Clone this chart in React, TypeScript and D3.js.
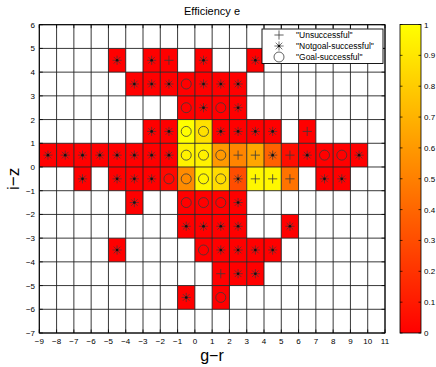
import * as d3 from 'd3'

// cell lower-left corners (g-r, i-z), efficiency value and marker type
const cellX = [
  -5, -3, -2, 0, 3,
  -4, -3, -2, -1, 0, 1, 2,
  -1, 0, 1, 2,
  -3, -2, -1, 0, 1, 2, 3, 4, 6,
  -9, -8, -7, -6, -5, -4, -3, -2, -1, 0, 1, 2, 3, 4, 5, 6, 7, 8, 9,
  -7, -5, -4, -3, -2, -1, 0, 1, 2, 3, 4, 5, 7, 8,
  -4, -1, 0, 1, 2,
  -1, 0, 1, 2, 5,
  -5, 0, 1, 2, 3, 4,
  1, 2, 3,
  -1, 1,
]
const cellY = [
  4, 4, 4, 4, 4,
  3, 3, 3, 3, 3, 3, 3,
  2, 2, 2, 2,
  1, 1, 1, 1, 1, 1, 1, 1, 1,
  0, 0, 0, 0, 0, 0, 0, 0, 0, 0, 0, 0, 0, 0, 0, 0, 0, 0, 0,
  -1, -1, -1, -1, -1, -1, -1, -1, -1, -1, -1, -1, -1, -1,
  -2, -2, -2, -2, -2,
  -3, -3, -3, -3, -3,
  -4, -4, -4, -4, -4, -4,
  -5, -5, -5,
  -6, -6,
]
const cellValue = [
  0, 0, 0, 0, 0,
  0, 0, 0, 0, 0, 0, 0,
  0, 0, 0, 0,
  0, 0, 1, 0.88, 0, 0, 0, 0, 0,
  0, 0, 0, 0, 0, 0, 0, 0, 0.95, 0.95, 0.6, 0.52, 0.65, 0.38, 0.05, 0, 0, 0, 0,
  0, 0, 0, 0, 0.03, 0.55, 0.97, 0.86, 0.3, 0.97, 0.97, 0.45, 0, 0,
  0, 0, 0, 0, 0,
  0, 0, 0, 0, 0,
  0, 0, 0, 0, 0, 0,
  0, 0, 0,
  0, 0,
]
// p = unsuccessful (+), s = notgoal-successful (*), o = goal-successful
const cellMarker = [
  's', 's', 'p', 's', 's',
  's', 's', 's', 'o', 's', 's', 's',
  'o', 's', 'o', 's',
  's', 's', 'o', 'o', 's', 's', 's', 's', 'p',
  's', 's', 's', 's', 's', 's', 's', 's', 'o', 'o', 'o', 'p', 'p', 's', 'p', 's', 'o', 'o', 's',
  's', 's', 's', 's', 'o', 'o', 'o', 'o', 's', 'p', 'p', 'p', 's', 's',
  's', 'o', 'o', 'o', 's',
  's', 's', 's', 's', 's',
  's', 'o', 's', 's', 's', 's',
  'p', 's', 's',
  's', 'o',
]

const xTicks = d3.range(-9, 12)
const yTicks = d3.range(-7, 7)
const cbTicks = d3.range(0, 11).map((d) => d / 10)
const legendItems = [
  { m: 'p', label: '"Unsuccessful"' },
  { m: 's', label: '"Notgoal-successful"' },
  { m: 'o', label: '"Goal-successful"' },
]

const FONT = '"Liberation Sans", Arial, sans-serif'
const MK = '#3a3a3a'

function Marker({ type, cx, cy }: { type: string; cx: number; cy: number }) {
  const a = 4.6
  if (type === 'o') {
    return <circle cx={cx} cy={cy} r={5} fill="none" stroke={MK} strokeWidth={0.8} />
  }
  if (type === 'p') {
    return (
      <path
        d={`M${cx - a},${cy}H${cx + a}M${cx},${cy - a}V${cy + a}`}
        stroke={MK}
        strokeWidth={0.8}
      />
    )
  }
  const b = a * 0.72
  return (
    <g stroke={MK} strokeWidth={0.7}>
      <path
        d={`M${cx - a},${cy}H${cx + a}M${cx},${cy - a}V${cy + a}M${cx - b},${cy - b}L${cx + b},${cy + b}M${cx - b},${cy + b}L${cx + b},${cy - b}`}
      />
      <circle cx={cx} cy={cy} r={1.3} fill="#111" stroke="none" />
    </g>
  )
}

export default function App() {
  const width = 436
  const height = 367
  const x = d3.scaleLinear().domain([-9, 11]).range([39.3, 385])
  const y = d3.scaleLinear().domain([-7, 6]).range([333, 24.7])
  const color = d3.scaleLinear<string>().domain([0, 1]).range(['#ff0000', '#ffff00'])
  const cbY = d3.scaleLinear().domain([0, 1]).range([333, 24.5])
  const cbX0 = 400
  const cbX1 = 421

  const cw = x(1) - x(0)
  const ch = y(0) - y(1)

  const gradStops = d3.range(0, 1.01, 0.1)

  return (
    <svg
      width={width}
      height={height}
      style={{ position: 'absolute', left: 0, top: 0, background: '#fff' }}
      fontFamily={FONT}
    >
      <defs>
        <linearGradient id="cb" x1="0" y1="1" x2="0" y2="0">
          {gradStops.map((s) => (
            <stop key={s} offset={s} stopColor={color(s)} />
          ))}
        </linearGradient>
      </defs>

      {/* title */}
      <text x={212} y={15} fontSize={11} textAnchor="middle" fill="#000">
        Efficiency e
      </text>

      {/* cells */}
      {cellX.map((cx, i) => (
        <rect
          key={'c' + i}
          x={x(cx)}
          y={y(cellY[i] + 1)}
          width={cw}
          height={ch}
          fill={color(cellValue[i])}
        />
      ))}

      {/* grid */}
      {xTicks.map((t) => (
        <line key={'gx' + t} x1={x(t)} x2={x(t)} y1={y(-7)} y2={y(6)} stroke="#222" strokeWidth={0.9} />
      ))}
      {yTicks.map((t) => (
        <line key={'gy' + t} x1={x(-9)} x2={x(11)} y1={y(t)} y2={y(t)} stroke="#222" strokeWidth={0.9} />
      ))}

      {/* markers */}
      {cellX.map((cx, i) => (
        <Marker key={'m' + i} type={cellMarker[i]} cx={x(cx + 0.5)} cy={y(cellY[i] + 0.5)} />
      ))}

      {/* axes box + ticks */}
      <rect x={x(-9)} y={y(6)} width={x(11) - x(-9)} height={y(-7) - y(6)} fill="none" stroke="#000" strokeWidth={1} />
      {xTicks.map((t) => (
        <g key={'tx' + t}>
          <line x1={x(t)} x2={x(t)} y1={y(-7)} y2={y(-7) - 3.5} stroke="#000" strokeWidth={0.8} />
          <line x1={x(t)} x2={x(t)} y1={y(6)} y2={y(6) + 3.5} stroke="#000" strokeWidth={0.8} />
          <text x={x(t)} y={344} fontSize={8} textAnchor="middle" fill="#000">
            {t < 0 ? '\u2212' + Math.abs(t) : t}
          </text>
        </g>
      ))}
      {yTicks.map((t) => (
        <g key={'ty' + t}>
          <line x1={x(-9)} x2={x(-9) + 3.5} y1={y(t)} y2={y(t)} stroke="#000" strokeWidth={0.8} />
          <line x1={x(11)} x2={x(11) - 3.5} y1={y(t)} y2={y(t)} stroke="#000" strokeWidth={0.8} />
          <text x={35} y={y(t) + 3} fontSize={8} textAnchor="end" fill="#000">
            {t < 0 ? '\u2212' + Math.abs(t) : t}
          </text>
        </g>
      ))}

      {/* axis labels */}
      <text x={212} y={361} fontSize={16} textAnchor="middle" fill="#000">
        g{'\u2212'}r
      </text>
      <text
        x={0}
        y={0}
        fontSize={17}
        textAnchor="middle"
        fill="#000"
        transform={`translate(19,${(y(6) + y(-7)) / 2}) rotate(-90)`}
      >
        i{'\u2212'}z
      </text>

      {/* legend */}
      <rect x={262} y={29} width={121} height={34.5} fill="#fff" stroke="#000" strokeWidth={0.9} />
      {legendItems.map((it, i) => (
        <g key={'l' + i}>
          <Marker type={it.m} cx={279} cy={35 + i * 11} />
          <text x={296} y={38.3 + i * 11} fontSize={8.5} fill="#000">
            {it.label}
          </text>
        </g>
      ))}

      {/* colorbar */}
      <rect x={cbX0} y={cbY(1)} width={cbX1 - cbX0} height={cbY(0) - cbY(1)} fill="url(#cb)" stroke="#000" strokeWidth={0.8} />
      {cbTicks.map((t) => (
        <g key={'cb' + t}>
          <line x1={cbX0} x2={cbX0 + 2.5} y1={cbY(t)} y2={cbY(t)} stroke="#000" strokeWidth={0.7} />
          <line x1={cbX1} x2={cbX1 - 2.5} y1={cbY(t)} y2={cbY(t)} stroke="#000" strokeWidth={0.7} />
          <text x={424} y={cbY(t) + 3} fontSize={8} fill="#000">
            {t}
          </text>
        </g>
      ))}
    </svg>
  )
}
